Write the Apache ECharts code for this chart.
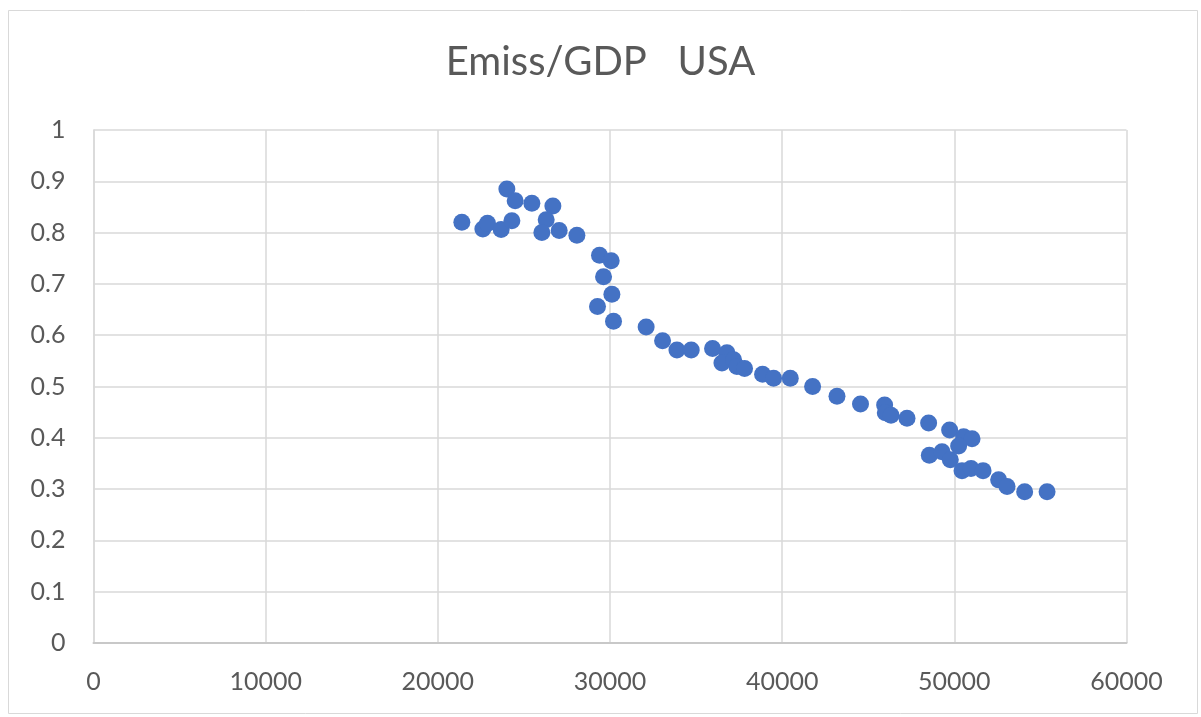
<!DOCTYPE html>
<html>
<head>
<meta charset="utf-8">
<script src="https://cdn.jsdelivr.net/npm/echarts@6/dist/echarts.min.js"></script>
<style>html,body{margin:0;padding:0;background:#fff}#c{width:1201px;height:717px}</style>
</head>
<body>
<div id="c"></div>
<script>
const gdp = [21395,22615,22883,23678,24009,24300,24492,25462,26682,26293,26043,27048,28077,29390,30070,29625,30110,29274,30204,32100,
  33053,33888,34718,35957,36792,36502,37178,37373,37815,38862,39501,40471,41768,43184,44550,45952,45990,46321,47251,48507,
  49727,50541,51028,50250,48547,49285,49767,50447,50970,51668,52574,53062,54085,55386];
const emissPerGdp = [0.820,0.807,0.818,0.806,0.885,0.823,0.862,0.857,0.852,0.825,0.800,0.804,0.795,0.756,0.745,0.714,0.680,0.656,0.627,0.616,
  0.589,0.571,0.571,0.574,0.566,0.546,0.552,0.539,0.535,0.524,0.516,0.516,0.500,0.481,0.466,0.464,0.449,0.444,0.438,0.429,
  0.415,0.402,0.398,0.384,0.366,0.373,0.357,0.336,0.340,0.336,0.318,0.305,0.295,0.295];
const xTicks = [0,10000,20000,30000,40000,50000,60000];
const yTicks = [0,0.1,0.2,0.3,0.4,0.5,0.6,0.7,0.8,0.9,1];

const points = gdp.map((g,i)=>[g, emissPerGdp[i]]);
const chart = echarts.init(document.getElementById('c'), null, {renderer:'canvas'});
chart.setOption({
  animation:false,
  backgroundColor:'#fff',
  title:{text:'Emiss/GDP   USA', left:'center', top:37,
    textStyle:{fontFamily:'Lato', fontWeight:'normal', fontSize:40, color:'#595959'}},
  graphic:[{type:'rect', shape:{x:8.5,y:10.5,width:1189,height:703},
    style:{fill:'none', stroke:'#d9d9d9', lineWidth:1}, silent:true}],
  grid:{left:93.5, right:74.5, top:130, bottom:74, containLabel:false},
  xAxis:{type:'value', min:xTicks[0], max:xTicks[xTicks.length-1], interval:10000,
    axisLine:{show:true, lineStyle:{color:'#c8c8c8', width:2}},
    axisTick:{show:false},
    splitLine:{show:true, lineStyle:{color:'#d9d9d9', width:1.5}},
    axisLabel:{fontFamily:'Lato', fontSize:25, color:'#595959', margin:26,
      formatter:v=>String(v)}},
  yAxis:{type:'value', min:yTicks[0], max:yTicks[yTicks.length-1], interval:0.1,
    axisLine:{show:true, lineStyle:{color:'#d9d9d9', width:1.5}},
    axisTick:{show:false},
    splitLine:{show:true, lineStyle:{color:'#d9d9d9', width:1.5}},
    axisLabel:{fontFamily:'Lato', fontSize:25, color:'#595959', margin:28,
      formatter:v=>String(Math.round(v*10)/10)}},
  series:[{type:'scatter', data:points, symbol:'circle', symbolSize:17,
    itemStyle:{color:'#4472C4', opacity:1}}]
});
</script>
</body>
</html>
